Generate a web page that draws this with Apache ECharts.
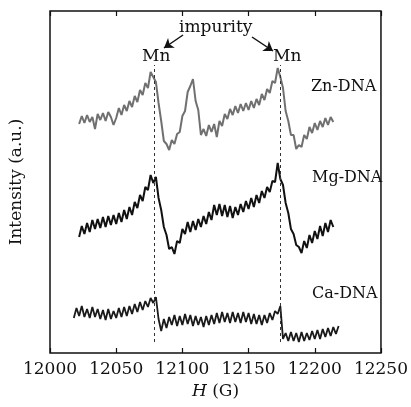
<!DOCTYPE html>
<html>
<head>
<meta charset="utf-8">
<script src="https://cdn.jsdelivr.net/npm/echarts@6/dist/echarts.min.js"></script>
<style>html,body{margin:0;padding:0;background:#fff;}#c{width:411px;height:407px;}</style>
</head>
<body>
<div id="c"></div>
<script>
// Magnetic field (G)
var fieldH = [12018,12020,12022,12024,12026,12028,12030,12032,12034,12036,12038,12040,12042,12044,12046,12048,12050,12052,12054,12056,12058,12060,12062,12064,12066,12068,12070,12072,12074,12076,12078,12080,12082,12084,12086,12088,12090,12092,12094,12096,12098,12100,12102,12104,12106,12108,12110,12112,12114,12116,12118,12120,12122,12124,12126,12128,12130,12132,12134,12136,12138,12140,12142,12144,12146,12148,12150,12152,12154,12156,12158,12160,12162,12164,12166,12168,12170,12172,12174,12176,12178,12180,12182,12184,12186,12188,12190,12192,12194,12196,12198,12200,12202,12204,12206,12208,12210,12212,12214,12216,12218];
// Intensities (a.u., offset stacked)
var znDNA = [null,null,
229,237,230,238,231,236,224,239,233,240,
232,241,236,228,235,245,238,248,242,252,
246,257,251,263,258,270,265,281,276,271,
250,232,212,209,203,213,209,219,221,237,
242,261,267,274,252,243,218,224,217,228,
221,229,216,232,227,239,234,244,238,247,
240,249,242,250,243,252,245,254,248,259,
253,264,260,272,270,285,276,265,242,232,
218,218,204,208,206,218,214,226,220,230,
223,232,226,235,228,236,231,
null,null];
var mgDNA = [null,null,
116,127,119,130,121,133,124,134,125,136,
126,137,128,138,129,140,131,143,134,146,
138,151,145,158,152,166,163,178,170,176,
155,143,126,118,104,106,99,112,110,124,
119,131,121,132,123,134,126,137,129,141,
133,148,138,149,137,148,136,147,135,146,
138,149,141,152,144,155,146,158,150,162,
155,166,161,172,171,190,174,168,150,140,
124,119,108,106,100,112,105,118,110,122,
114,127,117,130,121,133,126,
null,null];
var caDNA = [
35,45,37,47,36,44,35,46,36,44,
34,43,33,44,34,42,35,45,36,46,
37,47,39,49,41,51,43,52,46,55,
50,56,34,22,34,25,36,28,38,27,
37,28,39,29,38,27,37,28,36,26,
37,28,38,29,40,30,41,31,40,30,
41,31,40,30,41,31,40,29,39,29,
38,28,38,30,40,33,42,39,47,14,
20,12,21,12,20,11,21,12,20,13,
22,14,23,14,24,16,25,17,26,19,
27];
var xTicks = [12000,12050,12100,12150,12200,12250];
var mnFields = [12079,12174];
var sampleNames = ['Zn-DNA','Mg-DNA','Ca-DNA'];

var FONT = 'DejaVu Serif';
function pairs(v){ return fieldH.map(function(h,i){ return [h, v[i]]; }); }

var chart = echarts.init(document.getElementById('c'), null, {renderer:'canvas'});
var axisCommon = {
  type:'value', min:xTicks[0], max:xTicks[xTicks.length-1], interval:50,
  axisLine:{show:false}, splitLine:{show:false},
  axisTick:{show:true, inside:true, length:5, lineStyle:{color:'#111', width:1.2}}
};
chart.setOption({
  animation:false,
  backgroundColor:'#fff',
  grid:{left:47, right:28, top:11, bottom:54, show:true, borderColor:'#111', borderWidth:1.5, backgroundColor:'transparent'},
  xAxis:[
    Object.assign({}, axisCommon, {
      position:'bottom',
      axisLabel:{show:true, fontFamily:FONT, fontSize:17, color:'#111', margin:8,
        formatter:function(v){return String(v);}},
      name:'{i|H} (G)', nameLocation:'middle', nameGap:30,
      nameTextStyle:{fontFamily:FONT, fontSize:17, color:'#111',
        rich:{i:{fontFamily:FONT, fontStyle:'italic', fontSize:17, color:'#111'}}}
    }),
    Object.assign({}, axisCommon, {position:'top', axisLabel:{show:false}})
  ],
  yAxis:{
    type:'value', min:0, max:342,
    axisLine:{show:false}, axisTick:{show:false}, axisLabel:{show:false}, splitLine:{show:false},
    name:'Intensity (a.u.)', nameLocation:'middle', nameGap:25,
    nameTextStyle:{fontFamily:FONT, fontSize:17, color:'#111'}
  },
  series:[
    {name:sampleNames[0], type:'line', data:pairs(znDNA), showSymbol:false, connectNulls:false,
     lineStyle:{color:'#707070', width:2}, z:3,
     markLine:{silent:true, symbol:['none','arrow'], symbolSize:9,
       lineStyle:{color:'#111', width:1.5, type:'solid'}, label:{show:false},
       data:[
         [{x:183,y:35},{x:164,y:48}],
         [{x:252,y:37},{x:273,y:51}]
       ]}},
    {name:sampleNames[1], type:'line', data:pairs(mgDNA), showSymbol:false, connectNulls:false,
     lineStyle:{color:'#111', width:2}, z:3,
     markLine:{silent:true, symbol:['none','none'],
       lineStyle:{color:'#333', width:1, type:[3,3]}, label:{show:false},
       data:[
         [{coord:[mnFields[0], 11]},{coord:[mnFields[0], 288]}],
         [{coord:[mnFields[1], 11]},{coord:[mnFields[1], 288]}]
       ]}},
    {name:sampleNames[2], type:'line', data:pairs(caDNA), showSymbol:false, connectNulls:false,
     lineStyle:{color:'#1a1a1a', width:1.8}, z:3}
  ],
  graphic:[
    {type:'text', left:179, top:19, style:{text:'impurity', font:'17px "DejaVu Serif"', fill:'#111'}},
    {type:'text', left:142, top:48, style:{text:'Mn', font:'17px "DejaVu Serif"', fill:'#111'}},
    {type:'text', left:273, top:48, style:{text:'Mn', font:'17px "DejaVu Serif"', fill:'#111'}},
    {type:'text', left:311, top:79, style:{text:sampleNames[0], font:'16px "DejaVu Serif"', fill:'#111'}},
    {type:'text', left:312, top:170, style:{text:sampleNames[1], font:'16px "DejaVu Serif"', fill:'#111'}},
    {type:'text', left:312, top:286, style:{text:sampleNames[2], font:'16px "DejaVu Serif"', fill:'#111'}}
  ]
});
</script>
</body>
</html>
